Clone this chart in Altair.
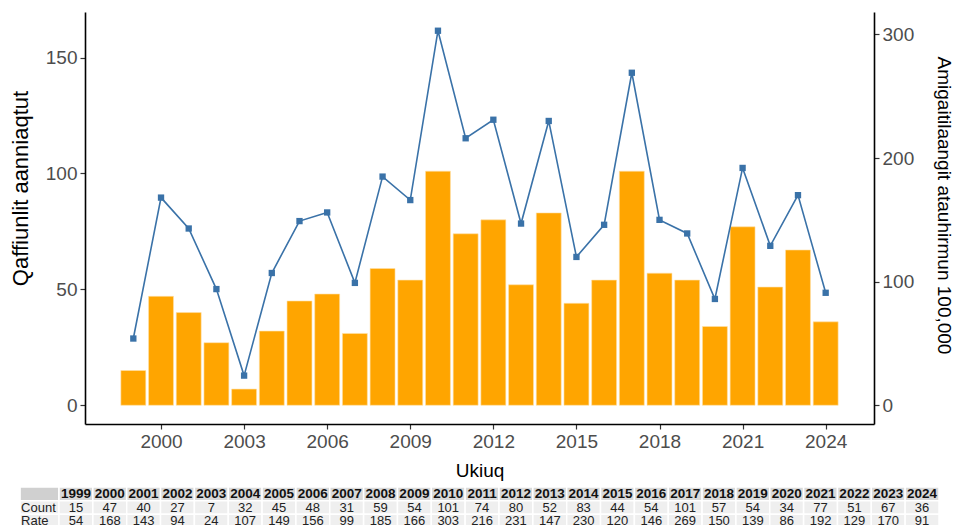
import altair as alt
import pandas as pd

years = list(range(1999, 2025))
counts = [15, 47, 40, 27, 7, 32, 45, 48, 31, 59, 54, 101, 74, 80, 52, 83, 44, 54, 101, 57, 54, 34, 77, 51, 67, 36]
rates = [54, 168, 143, 94, 24, 107, 149, 156, 99, 185, 166, 303, 216, 231, 147, 230, 120, 146, 269, 150, 139, 86, 192, 129, 170, 91]
x_ticks = [2000, 2003, 2006, 2009, 2012, 2015, 2018, 2021, 2024]
left_ticks = [0, 50, 100, 150]
right_ticks = [0, 100, 200, 300]

FONT = "Liberation Sans"
BAR_W = 0.9
K = 1.6 * max(counts) / max(rates)          # secondary-axis factor
top_left = max(rates) * K
exp_l = top_left * 0.05
left_dom = [-exp_l, top_left + exp_l]
right_dom = [left_dom[0] / K, left_dom[1] / K]
x_span = (years[-1] + BAR_W / 2) - (years[0] - BAR_W / 2)
x_dom = [years[0] - BAR_W / 2 - 0.05 * x_span, years[-1] + BAR_W / 2 + 0.05 * x_span]

W, H = 789, 412

df = pd.DataFrame({"year": years, "count": counts, "rate": rates})
df["x0"] = df["year"] - BAR_W / 2
df["x1"] = df["year"] + BAR_W / 2
df["zero"] = 0

xscale = alt.Scale(domain=x_dom, nice=False, zero=False)
xaxis = alt.Axis(values=x_ticks, format="d", title="Ukiuq", titlePadding=10)

bars = alt.Chart(df).mark_bar(color="#FFA500", stroke="#FFE0A8", strokeWidth=0.6).encode(
    x=alt.X("x0:Q", scale=xscale, axis=xaxis),
    x2="x1:Q",
    y=alt.Y("count:Q", scale=alt.Scale(domain=left_dom, nice=False, zero=False),
            axis=alt.Axis(values=left_ticks, title="Qaffiunlit aanniaqtut",
                          titleFontSize=22, titleX=-65, titleY=176, titleBaseline="middle",
                          titleAlign="center", titleAngle=270)),
    y2="zero:Q",
)

line_base = alt.Chart(df).encode(
    x=alt.X("year:Q", scale=xscale, axis=xaxis),
    y=alt.Y("rate:Q", scale=alt.Scale(domain=right_dom, nice=False, zero=False),
            axis=alt.Axis(values=right_ticks, orient="right",
                          title="Amigaitilaangit atauhirmun 100,000",
                          titleFontSize=19, titleX=69, titleY=193, titleBaseline="middle",
                          titleAlign="center", titleAngle=90)),
)
line = line_base.mark_line(color="#3a72a8", strokeWidth=1.6)
pts = line_base.mark_point(shape="square", filled=True, color="#3a72a8", size=40, opacity=1)

main = alt.layer(bars, alt.layer(line, pts)).resolve_scale(y="independent")

# ---- table under the chart ----
rows = []
LABEL_START = 1997.35
rows.append({"row": "h", "c0": LABEL_START, "c1": years[0] - 0.5, "txt": "", "fill": "#d0d0d0", "kind": "label"})
for y in years:
    rows.append({"row": "h", "c0": y - 0.5, "c1": y + 0.5, "txt": str(y), "fill": "#d9d9d9", "kind": "head"})
for name, vals in [("Count", counts), ("Rate", rates)]:
    rows.append({"row": name, "c0": LABEL_START, "c1": years[0] - 0.5, "txt": name, "fill": "#efefef", "kind": "label"})
    for y, v in zip(years, vals):
        rows.append({"row": name, "c0": y - 0.5, "c1": y + 0.5, "txt": str(v), "fill": "#efefef", "kind": "body"})
tdf = pd.DataFrame(rows)
tdf["cm"] = (tdf["c0"] + tdf["c1"]) / 2

tx = alt.Scale(domain=[years[0] - 0.5, years[-1] + 0.5], range=[59 - 85, 939 - 85], nice=False, zero=False)
ty = alt.Scale(domain=["h", "Count", "Rate"], range=[487 - 12, 528 - 12], paddingInner=0, paddingOuter=0)
ysort = ["h", "Count", "Rate"]

tbase = alt.Chart(tdf)
rects = tbase.mark_rect(stroke="white", strokeWidth=1.5).encode(
    x=alt.X("c0:Q", scale=tx, axis=None), x2="c1:Q",
    y=alt.Y("row:N", scale=ty, axis=None, sort=ysort),
    fill=alt.Color("fill:N", scale=None),
)
head_txt = tbase.transform_filter(alt.datum.kind == "head").mark_text(
    font=FONT, fontSize=13.5, fontWeight="bold", color="#111111", baseline="middle", align="center"
).encode(x=alt.X("cm:Q", scale=tx, axis=None),
         y=alt.Y("row:N", scale=ty, axis=None, sort=ysort, bandPosition=0.5),
         text="txt:N")
body_txt = tbase.transform_filter(alt.datum.kind == "body").mark_text(
    font=FONT, fontSize=13, color="#222222", baseline="middle", align="center"
).encode(x=alt.X("cm:Q", scale=tx, axis=None),
         y=alt.Y("row:N", scale=ty, axis=None, sort=ysort, bandPosition=0.5),
         text="txt:N")
lab_txt = tbase.transform_filter(alt.datum.kind == "label").mark_text(
    font=FONT, fontSize=13, color="#222222", baseline="middle", align="left", dx=1
).encode(x=alt.X("c0:Q", scale=tx, axis=None),
         y=alt.Y("row:N", scale=ty, axis=None, sort=ysort, bandPosition=0.5),
         text="txt:N")

table = alt.layer(rects, head_txt, body_txt, lab_txt)

chart = alt.layer(main, table).resolve_scale(x="independent", y="independent").properties(
    width=W, height=H,
    autosize=alt.AutoSizeParams(type="none"),
    padding={"left": 77, "top": 4, "right": 80, "bottom": 120},
).configure_view(stroke=None).configure_axis(
    grid=False, domainColor="black", domainWidth=1.6, tickColor="#333333", tickWidth=1.2,
    tickSize=5, labelColor="#4d4d4d", labelFont=FONT, labelFontSize=19, titleFont=FONT,
    titleFontSize=19, titleFontWeight="normal", titleColor="black", labelPadding=3,
)

chart.save("out.html", embed_options={"renderer": "svg", "actions": False})
